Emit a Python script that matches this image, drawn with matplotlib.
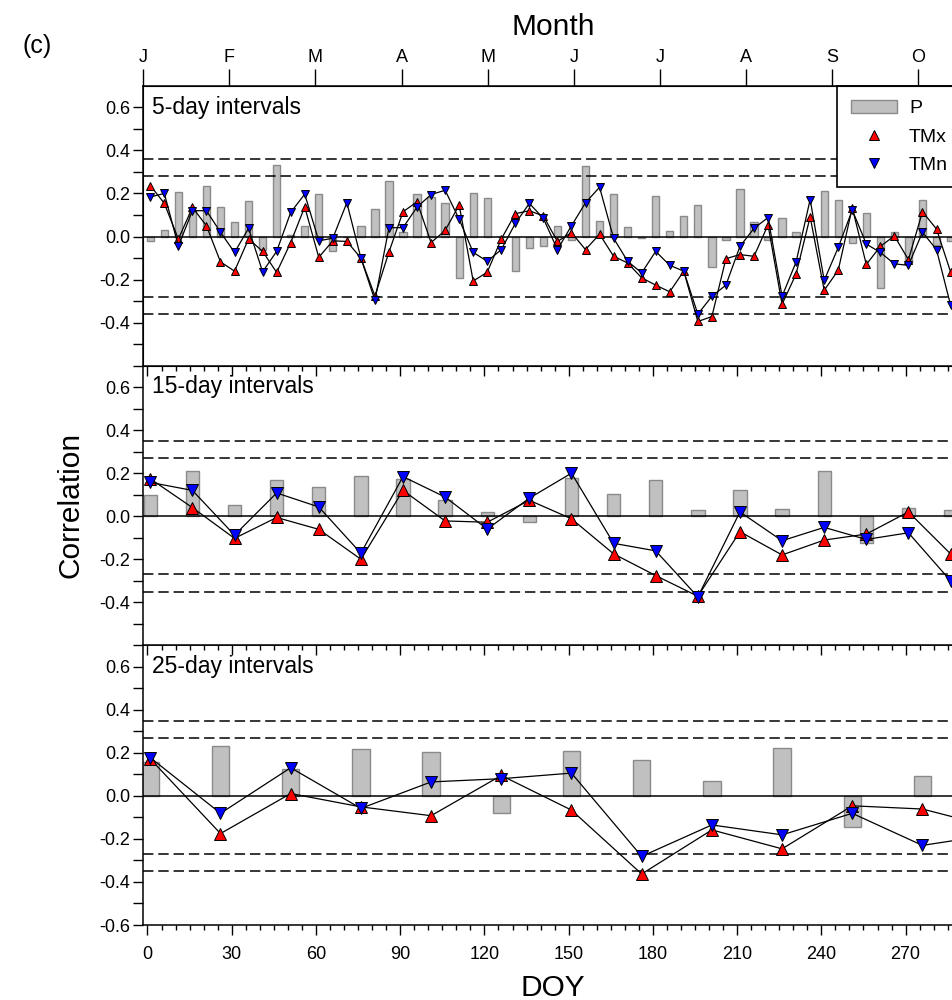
import matplotlib
matplotlib.use('Agg')
import matplotlib.pyplot as plt
from matplotlib.ticker import MultipleLocator
from matplotlib.patches import Patch
from matplotlib.lines import Line2D

plt.rcParams['font.family'] = ['Liberation Sans', 'DejaVu Sans']
plt.rcParams['lines.scale_dashes'] = False

# ---- 5-day intervals ----
doy5 = [1, 6, 11, 16, 21, 26, 31, 36, 41, 46, 51, 56, 61, 66, 71, 76, 81, 86, 91, 96,
        101, 106, 111, 116, 121, 126, 131, 136, 141, 146, 151, 156, 161, 166, 171, 176,
        181, 186, 191, 196, 201, 206, 211, 216, 221, 226, 231, 236, 241, 246, 251, 256,
        261, 266, 271, 276, 281, 286]
p5 = [-0.02, 0.03, 0.207, 0.12, 0.237, 0.137, 0.066, 0.166, -0.061, 0.333, 0.005, 0.049,
      0.197, -0.069, 0.0, 0.05, 0.127, 0.257, 0.02, 0.198, 0.184, 0.157, -0.192, 0.203,
      0.177, 0.0, -0.158, -0.054, -0.043, 0.049, -0.018, 0.327, 0.072, 0.197, 0.046,
      -0.008, 0.189, 0.026, 0.097, 0.146, -0.143, -0.018, 0.223, 0.066, -0.018, 0.088,
      0.023, 0.0, 0.21, 0.172, -0.03, 0.111, -0.238, 0.02, -0.123, 0.169, -0.038, -0.02]
tmx5 = [0.237, 0.154, -0.012, 0.135, 0.05, -0.118, -0.161, -0.011, -0.069, -0.167, -0.028,
        0.138, -0.097, -0.02, -0.023, -0.10, -0.277, -0.072, 0.115, 0.161, -0.028, 0.028,
        0.146, -0.207, -0.166, -0.012, 0.106, 0.12, 0.095, -0.023, 0.018, -0.061, 0.011,
        -0.092, -0.123, -0.192, -0.226, -0.257, -0.161, -0.395, -0.372, -0.103, -0.084,
        -0.092, 0.054, -0.315, -0.174, 0.092, -0.25, -0.157, 0.134, -0.13, -0.046, 0.003,
        -0.108, 0.115, 0.035, -0.164]
tmn5 = [0.184, 0.20, -0.045, 0.12, 0.12, 0.02, -0.074, 0.038, -0.164, -0.069, 0.112, 0.197,
        -0.02, -0.008, 0.157, -0.10, -0.297, 0.041, 0.041, 0.137, 0.195, 0.215, 0.08,
        -0.074, -0.115, -0.061, 0.061, 0.154, 0.084, -0.061, 0.05, 0.157, 0.229, -0.008,
        -0.115, -0.169, -0.069, -0.134, -0.161, -0.361, -0.278, -0.226, -0.046, 0.038,
        0.088, -0.278, -0.118, 0.172, -0.204, -0.051, 0.123, -0.035, -0.074, -0.127,
        -0.134, 0.02, -0.061, -0.318]

# ---- 15-day intervals ----
doy15 = [1, 16, 31, 46, 61, 76, 91, 106, 121, 136, 151, 166, 181, 196, 211, 226, 241, 256, 271, 286]
p15 = [0.10, 0.212, 0.054, 0.17, 0.138, 0.187, 0.172, 0.077, 0.02, -0.029, 0.177, 0.104,
       0.169, 0.028, 0.123, 0.034, 0.209, -0.126, 0.04, 0.031]
tmx15 = [0.174, 0.04, -0.103, -0.006, -0.061, -0.20, 0.12, -0.022, -0.028, 0.074, -0.012,
         -0.175, -0.276, -0.372, -0.072, -0.18, -0.111, -0.083, 0.02, -0.175]
tmn15 = [0.157, 0.12, -0.088, 0.108, 0.043, -0.172, 0.184, 0.089, -0.06, 0.084, 0.20,
         -0.126, -0.161, -0.375, 0.02, -0.114, -0.052, -0.108, -0.077, -0.30]

# ---- 25-day intervals ----
doy25 = [1, 26, 51, 76, 101, 126, 151, 176, 201, 226, 251, 276, 301]
p25 = [0.157, 0.232, 0.126, 0.217, 0.206, -0.078, 0.21, 0.167, 0.069, 0.221, -0.143, 0.094]
tmx25 = [0.172, -0.175, 0.011, -0.051, -0.092, 0.095, -0.066, -0.363, -0.158, -0.246,
         -0.046, -0.061, -0.145]
tmn25 = [0.178, -0.081, 0.131, -0.058, 0.065, 0.08, 0.106, -0.281, -0.135, -0.181,
         -0.081, -0.23, -0.18]

# significance levels
sig5 = [0.28, 0.36]
sig15 = [0.27, 0.35]
sig25 = [0.27, 0.35]

# visible tick labels (the rest of the axis is cropped off the right edge)
months = ['J', 'F', 'M', 'A', 'M', 'J', 'J', 'A', 'S', 'O']
doy_labels = ['0', '30', '60', '90', '120', '150', '180', '210', '240', '270']

BAR_C = '#c0c0c0'
BAR_E = '#8a8a8a'


def draw_panel(ax, doy, p, tmx, tmn, bar_w, sig, ms, label, bottom=False):
    ax.bar(doy[:len(p)], p, width=bar_w, color=BAR_C, edgecolor=BAR_E, linewidth=1.0, zorder=1)
    ax.axhline(0, color='black', lw=1.1, zorder=2)
    for s in sig:
        ax.axhline(s, color='black', lw=1.1, ls=(0, (7.5, 3.5)), zorder=2)
        ax.axhline(-s, color='black', lw=1.1, ls=(0, (7.5, 3.5)), zorder=2)
    ax.plot(doy, tmx, color='black', lw=0.9, marker='^', ms=ms, mfc='red', mec='black',
            mew=0.7, zorder=3)
    ax.plot(doy, tmn, color='black', lw=0.9, marker='v', ms=ms, mfc='blue', mec='black',
            mew=0.7, zorder=4)

    ax.set_xlim(-1.5, 366.5)
    ax.set_ylim(-0.6, 0.7)
    xt = list(range(0, 361, 30))
    ax.set_xticks(xt)
    ax.set_xticklabels(doy_labels + [''] * (len(xt) - len(doy_labels)))
    ax.xaxis.set_minor_locator(MultipleLocator(5))
    ax.tick_params(axis='x', which='major', direction='out', length=7.2, width=1.0,
                   labelsize=13, pad=8, top=False, labelbottom=bottom)
    ax.tick_params(axis='x', which='minor', direction='out', length=3.6, width=1.0, top=False)

    yt = [-0.6, -0.5, -0.4, -0.3, -0.2, -0.1, 0.0, 0.1, 0.2, 0.3, 0.4, 0.5, 0.6]
    ylab = ['-0.6' if bottom else '', '', '-0.4', '', '-0.2', '', '0.0', '', '0.2', '', '0.4', '', '0.6']
    ax.set_yticks(yt)
    ax.set_yticklabels(ylab)
    ax.tick_params(axis='y', direction='out', length=7.2, width=1.0, labelsize=13, pad=2,
                   right=False)
    for sp in ax.spines.values():
        sp.set_linewidth(1.1)

    ax.annotate(label, xy=(0, 1), xycoords='axes fraction', xytext=(6, -7),
                textcoords='offset points', ha='left', va='top', fontsize=16.5)


fig = plt.figure(figsize=(9.52, 10), dpi=100)
L, W = 0.1505, 1.0854
H = 0.2797
ax3 = fig.add_axes([L, 0.075, W, H])
ax2 = fig.add_axes([L, 0.075 + H, W, H])
ax1 = fig.add_axes([L, 0.075 + 2 * H, W, H])

draw_panel(ax1, doy5, p5, tmx5, tmn5, 2.6, sig5, 6.3, '5-day intervals')
draw_panel(ax2, doy15, p15, tmx15, tmn15, 4.75, sig15, 8, '15-day intervals')
draw_panel(ax3, doy25, p25, tmx25, tmn25, 6.2, sig25, 8.5, '25-day intervals', bottom=True)

# month axis on top
axm = ax1.twiny()
axm.set_xlim(0, 12)
axm.set_xticks(range(0, 13))
axm.set_xticklabels(months + [''] * (13 - len(months)))
axm.tick_params(axis='x', direction='out', length=12.5, width=1.0, labelsize=13, pad=2)

# legend
handles = [Patch(facecolor=BAR_C, edgecolor=BAR_E, linewidth=1.0),
           Line2D([], [], ls='none', marker='^', ms=6.5, mfc='red', mec='black', mew=0.7),
           Line2D([], [], ls='none', marker='v', ms=6.5, mfc='blue', mec='black', mew=0.7)]
leg = ax1.legend(handles, ['P', 'TMx', 'TMn'], loc='upper left',
                 bbox_to_anchor=(837 / 952, 1 - 86 / 1000), bbox_transform=fig.transFigure,
                 borderaxespad=0, fontsize=14, frameon=True, fancybox=False,
                 edgecolor='black', framealpha=1, handlelength=2.4, handletextpad=0.6,
                 labelspacing=0.55, borderpad=0.7)
leg.get_frame().set_linewidth(1.2)
leg.set_zorder(10)

fig.text(70 / 952, 1 - 505 / 1000, 'Correlation', rotation=90, ha='center', va='center',
         fontsize=21.5)
fig.text(553 / 952, 1 - 988 / 1000, 'DOY', ha='center', va='center', fontsize=21.5)
fig.text(553 / 952, 1 - 27 / 1000, 'Month', ha='center', va='center', fontsize=21.5)
fig.text(37 / 952, 1 - 46 / 1000, '(c)', ha='center', va='center', fontsize=18)

fig.savefig('out.png', dpi=100)
